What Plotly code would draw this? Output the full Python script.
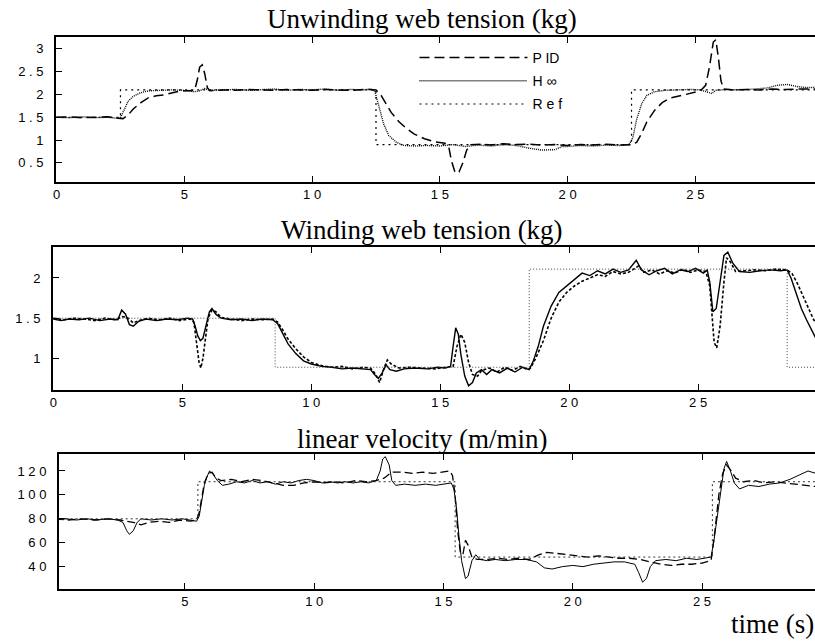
import plotly.graph_objects as go

# ---------------- DATA ----------------
# Panel 1: Unwinding web tension (kg)
unw_ref_t = [0, 2.5, 2.5, 12.5, 12.5, 22.5, 22.5, 29.8]
unw_ref_v = [1.5, 1.5, 2.1, 2.1, 0.9, 0.9, 2.1, 2.1]

unw_hinf_t = [0, 0.5, 1.0, 1.5, 2.0, 2.3, 2.5, 2.6, 2.8, 3.0, 3.3, 3.6, 4.0, 4.5, 5.0, 5.4, 5.6, 5.8,
              6.0, 6.5, 7.0, 7.5, 8.0, 8.5, 9.0, 9.5, 10.0, 10.5, 11.0, 11.5, 12.0, 12.3, 12.45, 12.6,
              12.8, 13.0, 13.3, 13.6, 14.0, 14.5, 15.0, 15.5, 16.0, 16.5, 17.0, 17.5, 18.0, 18.5, 19.0,
              19.5, 19.8, 20.0, 20.5, 21.0, 21.5, 22.0, 22.4, 22.55, 22.7, 22.9, 23.1, 23.4, 23.8, 24.3,
              24.8, 25.2, 25.5, 25.65, 25.8, 26.2, 26.8, 27.3, 27.8, 28.2, 28.6, 29.0, 29.4, 29.8]
unw_hinf_v = [1.50, 1.49, 1.51, 1.49, 1.50, 1.48, 1.49, 1.60, 1.85, 1.96, 2.04, 2.08, 2.09, 2.10, 2.09,
              2.06, 2.08, 2.13, 2.09, 2.10, 2.11, 2.09, 2.10, 2.12, 2.09, 2.11, 2.10, 2.12, 2.09, 2.11,
              2.10, 2.12, 2.08, 1.75, 1.35, 1.10, 0.95, 0.88, 0.87, 0.88, 0.87, 0.90, 0.86, 0.89, 0.87,
              0.90, 0.88, 0.82, 0.78, 0.79, 0.86, 0.86, 0.88, 0.87, 0.89, 0.88, 0.90, 1.05, 1.45, 1.80,
              1.98, 2.06, 2.09, 2.10, 2.11, 2.10, 2.05, 2.02, 2.09, 2.11, 2.10, 2.12, 2.14, 2.20, 2.22,
              2.17, 2.15, 2.16]

unw_pid_t = [0, 0.5, 1.0, 1.5, 2.0, 2.4, 2.6, 2.8, 3.0, 3.3, 3.6, 3.9, 4.2, 4.5, 4.8, 5.1, 5.4, 5.5, 5.6,
             5.7, 5.8, 5.9, 6.0, 6.5, 7.0, 7.5, 8.0, 8.5, 9.0, 9.5, 10.0, 10.5, 11.0, 11.5, 12.0, 12.5,
             12.7, 12.9, 13.1, 13.4, 13.7, 14.0, 14.4, 14.8, 15.2, 15.35, 15.45, 15.6, 15.75, 15.9, 16.05,
             16.2, 16.6, 17.0, 17.5, 18.0, 18.5, 19.0, 19.5, 20.0, 20.5, 21.0, 21.5, 22.0, 22.5, 22.7,
             22.9, 23.1, 23.4, 23.7, 24.0, 24.4, 24.8, 25.2, 25.4, 25.55, 25.7, 25.8, 25.9, 26.0, 26.1,
             26.5, 27.0, 27.5, 28.0, 28.5, 29.0, 29.5, 29.8]
unw_pid_v = [1.50, 1.51, 1.49, 1.50, 1.51, 1.48, 1.47, 1.55, 1.68, 1.82, 1.93, 1.97, 1.99, 2.03, 2.07,
             2.08, 2.09, 2.30, 2.60, 2.65, 2.45, 2.15, 2.08, 2.10, 2.09, 2.11, 2.10, 2.09, 2.11, 2.10,
             2.09, 2.11, 2.10, 2.09, 2.11, 2.10, 1.98, 1.78, 1.60, 1.40, 1.25, 1.13, 1.03, 0.96, 0.93,
             0.85, 0.55, 0.28, 0.30, 0.50, 0.78, 0.90, 0.91, 0.89, 0.92, 0.90, 0.91, 0.89, 0.90, 0.88,
             0.90, 0.89, 0.91, 0.89, 0.90, 0.95, 1.15, 1.40, 1.65, 1.82, 1.92, 1.97, 2.03, 2.08, 2.20,
             2.60, 3.15, 3.20, 2.80, 2.30, 2.12, 2.10, 2.11, 2.10, 2.12, 2.11, 2.12, 2.11, 2.12]

# Panel 2: Winding web tension (kg)
win_ref_t = [0, 8.6, 8.6, 18.45, 18.45, 28.45, 28.45, 29.8]
win_ref_v = [1.5, 1.5, 0.89, 0.89, 2.11, 2.11, 0.89, 0.89]

win_hinf_t = [0, 0.3, 0.6, 1.0, 1.4, 1.8, 2.2, 2.5, 2.65, 2.8, 2.95, 3.1, 3.3, 3.6, 4.0, 4.4, 4.8, 5.2,
              5.4, 5.5, 5.6, 5.7, 5.8, 5.9, 6.05, 6.15, 6.3, 6.5, 6.9, 7.3, 7.7, 8.1, 8.5, 8.7, 8.9, 9.1,
              9.4, 9.7, 10.0, 10.4, 10.8, 11.2, 11.6, 12.0, 12.3, 12.45, 12.6, 12.75, 12.9, 13.05, 13.3,
              13.6, 14.0, 14.5, 14.9, 15.2, 15.4, 15.5, 15.6, 15.7, 15.8, 15.95, 16.1, 16.25, 16.4, 16.6,
              16.8, 17.0, 17.3, 17.6, 17.9, 18.2, 18.45, 18.6, 18.8, 19.0, 19.3, 19.6, 19.9, 20.2, 20.5,
              20.8, 21.1, 21.4, 21.7, 22.0, 22.3, 22.6, 22.8, 23.1, 23.4, 23.7, 24.0, 24.3, 24.6, 24.9,
              25.2, 25.35, 25.45, 25.57, 25.7, 25.85, 26.0, 26.15, 26.35, 26.6, 27.0, 27.4, 27.8, 28.2,
              28.45, 28.6, 28.8, 29.0, 29.2, 29.4, 29.6, 29.8]
win_hinf_v = [1.49, 1.47, 1.49, 1.48, 1.50, 1.47, 1.49, 1.48, 1.60, 1.55, 1.42, 1.40, 1.46, 1.49, 1.47,
              1.49, 1.48, 1.50, 1.49, 1.40, 1.28, 1.22, 1.25, 1.38, 1.58, 1.62, 1.55, 1.50, 1.48, 1.49,
              1.47, 1.49, 1.48, 1.43, 1.30, 1.18, 1.06, 0.97, 0.93, 0.90, 0.89, 0.87, 0.88, 0.87, 0.86,
              0.80, 0.75, 0.82, 0.92, 0.86, 0.84, 0.87, 0.88, 0.87, 0.89, 0.88, 0.90, 1.15, 1.38, 1.30,
              1.05, 0.78, 0.66, 0.70, 0.82, 0.86, 0.80, 0.86, 0.82, 0.88, 0.83, 0.89, 0.86, 0.96, 1.15,
              1.40, 1.65, 1.82, 1.90, 1.98, 2.06, 2.03, 2.09, 2.05, 2.11, 2.07, 2.10, 2.22, 2.10, 2.04,
              2.09, 2.12, 2.05, 2.10, 2.08, 2.12, 2.06, 2.10, 1.95, 1.58, 1.62, 1.95, 2.28, 2.32, 2.18,
              2.08, 2.07, 2.09, 2.10, 2.09, 2.10, 2.00, 1.80, 1.62, 1.48, 1.35, 1.22, 1.10]

win_pid_t = [0, 0.4, 0.8, 1.2, 1.6, 2.0, 2.4, 2.7, 2.9, 3.1, 3.3, 3.7, 4.1, 4.5, 4.9, 5.3, 5.45, 5.55, 5.65,
             5.72, 5.8, 5.9, 6.0, 6.15, 6.3, 6.5, 6.9, 7.3, 7.7, 8.1, 8.5, 8.7, 8.9, 9.1, 9.4, 9.7, 10.0,
             10.4, 10.8, 11.2, 11.6, 12.0, 12.3, 12.5, 12.65, 12.8, 12.95, 13.1, 13.4, 13.8, 14.3, 14.8,
             15.2, 15.5, 15.65, 15.8, 15.95, 16.1, 16.25, 16.45, 16.6, 16.9, 17.2, 17.5, 17.8, 18.1, 18.4,
             18.5, 18.7, 19.0, 19.3, 19.6, 19.9, 20.2, 20.5, 20.8, 21.1, 21.4, 21.7, 22.0, 22.3, 22.7,
             22.9, 23.2, 23.5, 23.8, 24.1, 24.4, 24.7, 25.0, 25.3, 25.45, 25.55, 25.62, 25.72, 25.85,
             26.0, 26.1, 26.25, 26.45, 26.8, 27.2, 27.6, 28.0, 28.45, 28.65, 28.85, 29.05, 29.25, 29.45,
             29.65, 29.8]
win_pid_v = [1.50, 1.48, 1.50, 1.49, 1.47, 1.50, 1.48, 1.52, 1.50, 1.44, 1.47, 1.50, 1.48, 1.50, 1.47,
             1.49, 1.45, 1.20, 0.95, 0.88, 1.00, 1.25, 1.50, 1.60, 1.58, 1.51, 1.49, 1.47, 1.49, 1.48,
             1.49, 1.45, 1.35, 1.24, 1.12, 1.02, 0.95, 0.91, 0.89, 0.90, 0.87, 0.89, 0.88, 0.80, 0.70,
             0.86, 0.98, 0.93, 0.88, 0.89, 0.88, 0.87, 0.89, 0.90, 1.15, 1.30, 1.20, 0.95, 0.80, 0.78,
             0.85, 0.88, 0.83, 0.89, 0.85, 0.90, 0.86, 0.88, 1.00, 1.22, 1.50, 1.70, 1.82, 1.90, 1.96,
             2.00, 2.04, 2.02, 2.08, 2.05, 2.07, 2.15, 2.07, 2.10, 2.05, 2.09, 2.06, 2.11, 2.07, 2.10,
             2.08, 1.90, 1.50, 1.20, 1.13, 1.40, 1.95, 2.25, 2.20, 2.08, 2.09, 2.10, 2.09, 2.11, 2.10,
             2.05, 1.93, 1.78, 1.64, 1.50, 1.38, 1.28]

# Panel 3: linear velocity (m/min)
vel_ref_t = [0, 5.5, 5.5, 15.45, 15.45, 25.4, 25.4, 29.8]
vel_ref_v = [80, 80, 111, 111, 48, 48, 111, 111]

vel_hinf_t = [0, 0.4, 0.8, 1.2, 1.6, 2.0, 2.4, 2.6, 2.75, 2.85, 3.0, 3.15, 3.3, 3.7, 4.1, 4.5, 4.9, 5.3,
              5.45, 5.55, 5.65, 5.75, 5.85, 5.95, 6.1, 6.25, 6.45, 6.7, 7.0, 7.3, 7.6, 7.9, 8.2, 8.5, 8.8,
              9.1, 9.4, 9.7, 10.0, 10.3, 10.6, 10.9, 11.2, 11.5, 11.8, 12.1, 12.4, 12.55, 12.65, 12.75,
              12.9, 13.0, 13.15, 13.5, 13.9, 14.3, 14.7, 15.0, 15.3, 15.4, 15.5, 15.6, 15.7, 15.85, 15.95,
              16.1, 16.25, 16.4, 16.7, 17.0, 17.4, 17.8, 18.2, 18.6, 18.9, 19.2, 19.6, 20.0, 20.4, 20.8,
              21.2, 21.6, 22.0, 22.4, 22.55, 22.7, 22.85, 23.0, 23.2, 23.6, 24.0, 24.4, 24.8, 25.2, 25.35,
              25.45, 25.6, 25.75, 25.85, 25.95, 26.1, 26.25, 26.45, 26.8, 27.2, 27.6, 28.0, 28.4, 28.8,
              29.1, 29.4, 29.8]
vel_hinf_v = [79, 80, 79, 80, 79, 80, 79, 77, 70, 67, 70, 77, 80, 79, 80, 79, 80, 79, 78, 82, 95, 108, 115,
              120, 117, 112, 108, 109, 111, 110, 112, 110, 111, 109, 111, 110, 112, 113, 112, 110, 111,
              110, 111, 110, 111, 110, 112, 120, 130, 132, 125, 112, 108, 109, 108, 109, 108, 109, 110,
              105, 90, 65, 45, 30, 32, 45, 50, 46, 45, 46, 45, 46, 46, 44, 39, 38, 40, 41, 40, 42, 43,
              44, 44, 42, 35, 27, 30, 40, 45, 46, 45, 47, 46, 47, 48, 60, 85, 110, 122, 128, 120, 110,
              105, 108, 107, 109, 110, 113, 117, 120, 118, 121]

vel_pid_t = [0, 0.5, 1.0, 1.5, 2.0, 2.5, 3.0, 3.3, 3.6, 4.0, 4.4, 4.8, 5.2, 5.45, 5.55, 5.65, 5.75, 5.9,
             6.05, 6.2, 6.4, 6.8, 7.2, 7.6, 8.0, 8.4, 8.8, 9.2, 9.6, 10.0, 10.4, 10.8, 11.2, 11.6, 12.0,
             12.4, 12.7, 13.0, 13.4, 13.8, 14.2, 14.6, 15.0, 15.25, 15.35, 15.45, 15.55, 15.65, 15.75,
             15.85, 15.95, 16.1, 16.3, 16.7, 17.1, 17.5, 17.9, 18.3, 18.7, 19.0, 19.4, 19.8, 20.2, 20.6,
             21.0, 21.4, 21.8, 22.2, 22.6, 23.0, 23.4, 23.8, 24.2, 24.6, 25.0, 25.35, 25.5, 25.65, 25.8,
             25.95, 26.1, 26.3, 26.6, 27.0, 27.4, 27.8, 28.2, 28.6, 29.0, 29.4, 29.8]
vel_pid_v = [80, 79, 80, 79, 80, 79, 77, 75, 77, 78, 77, 79, 78, 79, 85, 98, 110, 118, 119, 114, 112, 113,
             111, 113, 112, 110, 108, 108, 110, 111, 110, 111, 110, 112, 111, 112, 114, 119, 119, 118,
             119, 118, 119, 120, 116, 100, 70, 52, 50, 62, 58, 48, 46, 46, 47, 46, 47, 46, 50, 52, 51,
             50, 49, 48, 49, 48, 47, 47, 46, 44, 42, 41, 42, 42, 43, 45, 70, 100, 118, 125, 121, 114,
             111, 112, 110, 111, 110, 109, 108, 107, 105]

# Tick labels
x_tickvals = [0, 5, 10, 15, 20, 25]
x_ticktext = ["0", "5", "1 0", "1 5", "2 0", "2 5"]
unw_yvals = [0.5, 1, 1.5, 2, 2.5, 3]
unw_ytext = ["0 . 5", "1", "1 . 5", "2", "2 . 5", "3"]
win_yvals = [1, 1.5, 2]
win_ytext = ["1", "1 . 5", "2"]
vel_yvals = [40, 60, 80, 100, 120]
vel_ytext = ["4 0", "6 0", "8 0", "1 0 0", "1 2 0"]

# ---------------- FIGURE ----------------
W, H = 815, 642
fig = go.Figure()


def add(t, v, name, dash, width, xa, ya, show, color="black"):
    fig.add_trace(go.Scatter(x=t, y=v, mode="lines", name=name, xaxis=xa, yaxis=ya,
                             showlegend=show, legendgroup=name if show else None,
                             line=dict(color=color, width=width, dash=dash),
                             hoverinfo="skip"))


# Panel 1 (legend)
add(unw_pid_t, unw_pid_v, "P ID", "10px,5px", 1.5, "x", "y", True)
add(unw_hinf_t, unw_hinf_v, "H ∞", "1px,1px", 1.4, "x", "y", True)
add(unw_ref_t, unw_ref_v, "R e f", "2px,4px", 1.2, "x", "y", True)
# Panel 2
add(win_pid_t, win_pid_v, "pid2", "3px,2px", 1.6, "x2", "y2", False)
add(win_hinf_t, win_hinf_v, "hinf2", "solid", 1.4, "x2", "y2", False)
add(win_ref_t, win_ref_v, "ref2", "1px,2px", 1.0, "x2", "y2", False, "#444")
# Panel 3
add(vel_pid_t, vel_pid_v, "pid3", "8px,4px", 1.3, "x3", "y3", False)
add(vel_hinf_t, vel_hinf_v, "hinf3", "solid", 1.0, "x3", "y3", False)
add(vel_ref_t, vel_ref_v, "ref3", "2px,3px", 1.0, "x3", "y3", False, "#333")

tickfont = dict(family="Liberation Sans, Arial, sans-serif", size=13, color="black")


def xax(left_px, rng):
    return dict(domain=[left_px / W, 1.0], range=rng, showline=True, linewidth=1.5,
                linecolor="black", mirror="allticks", ticks="inside", ticklen=6,
                tickcolor="black", tickwidth=1.2, tickvals=x_tickvals, ticktext=x_ticktext,
                tickfont=tickfont, showgrid=False, zeroline=False, ticklabelstandoff=0)


def yax(top_px, bot_px, rng, vals, text):
    return dict(domain=[1 - bot_px / H, 1 - top_px / H], range=rng, showline=True,
                linewidth=1.5, linecolor="black", mirror=False, ticks="inside", ticklen=6,
                tickcolor="black", tickwidth=1.2, tickvals=vals, ticktext=text,
                tickfont=tickfont, showgrid=False, zeroline=False, ticklabelstandoff=8)


fig.update_layout(
    width=W, height=H, margin=dict(l=0, r=0, t=0, b=0),
    paper_bgcolor="white", plot_bgcolor="white",
    xaxis=dict(xax(53, [-0.03, 29.68]), anchor="y"),
    yaxis=dict(yax(37, 182, [0.08, 3.26], unw_yvals, unw_ytext), anchor="x"),
    xaxis2=dict(xax(50, [-0.02, 29.53]), anchor="y2"),
    yaxis2=dict(yax(247, 390, [0.607, 2.385], win_yvals, win_ytext), anchor="x2"),
    xaxis3=dict(xax(56, [0.12, 29.37]), anchor="y3"),
    yaxis3=dict(yax(454, 589, [21.3, 134.2], vel_yvals, vel_ytext), anchor="x3"),
    legend=dict(x=413 / W, y=1 - 42 / H, xanchor="left", yanchor="top",
                bgcolor="rgba(0,0,0,0)", itemwidth=108, tracegroupgap=2,
                font=dict(family="Liberation Sans, Arial, sans-serif", size=14, color="black")),
    showlegend=True,
)

serif = dict(family="Liberation Serif, Times New Roman, serif", size=27, color="black")
for txt, cx, cy in [("Unwinding web tension (kg)", 421, 19),
                    ("Winding web tension (kg)", 421, 230),
                    ("linear velocity (m/min)", 421, 439),
                    ("time (s)", 772, 624)]:
    fig.add_annotation(text=txt, x=cx / W, y=1 - cy / H, xref="paper", yref="paper",
                       xanchor="center", yanchor="middle", showarrow=False, font=serif)

fig.write_html("out.html", config={"displayModeBar": False},
               post_script="document.body.style.margin='0';document.body.style.overflow='hidden';")
